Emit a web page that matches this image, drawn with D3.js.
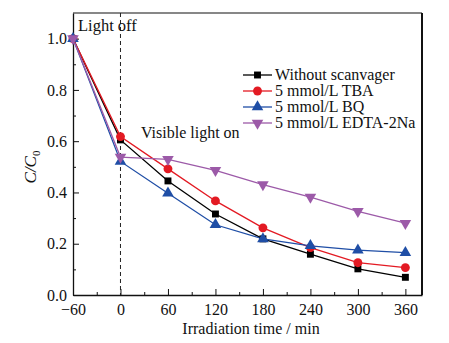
<!DOCTYPE html>
<html lang="en">
<head>
    <meta charset="UTF-8">
    <title>Scavenger experiment</title>
    <script src="https://cdn.jsdelivr.net/npm/d3@7"></script>
    <style>
        body {
            margin: 0;
            background: #fff;
        }

        svg text {
            font-family: "Liberation Serif", "DejaVu Serif", serif;
            fill: #111;
        }
    </style>
</head>
<body>
<svg id="chart" width="449" height="343"></svg>
<script>
    var times = [-60, 0, 60, 120, 180, 240, 300, 360];
    var xTicks = [-60, 0, 60, 120, 180, 240, 300, 360];
    var yTicks = [0, 0.2, 0.4, 0.6, 0.8, 1.0];

    var names = ['Without scanvager', '5 mmol/L TBA', '5 mmol/L BQ', '5 mmol/L EDTA-2Na'];
    var noScav = [1.0, 0.605, 0.445, 0.316, 0.219, 0.159, 0.102, 0.069];
    var tba = [1.0, 0.618, 0.492, 0.367, 0.262, 0.185, 0.126, 0.107];
    var bq = [1.0, 0.521, 0.397, 0.274, 0.219, 0.192, 0.175, 0.165];
    var edta = [1.0, 0.538, 0.529, 0.486, 0.431, 0.382, 0.326, 0.280];

    var colors = ['#000000', '#e31a23', '#1f4ea6', '#9c5aa8'];
    var shapes = [d3.symbolSquare, d3.symbolCircle, d3.symbolTriangle, d3.symbolTriangle];
    var series = [noScav, tba, bq, edta];

    var svg = d3.select('#chart');
    var m = {left: 73, right: 422, top: 13, bottom: 295};

    var x = d3.scaleLinear().domain([-60, 381]).range([m.left, m.right]);
    var y = d3.scaleLinear().domain([0, 1.1]).range([m.bottom, m.top]);

    // frame
    svg.append('line').attr('x1', m.left).attr('x2', m.right).attr('y1', m.top).attr('y2', m.top)
        .attr('stroke', '#111').attr('stroke-width', 1.2);
    svg.append('line').attr('x1', m.right).attr('x2', m.right).attr('y1', m.top).attr('y2', m.bottom)
        .attr('stroke', '#111').attr('stroke-width', 2);

    // axes with ticks pointing in, minor ticks halfway
    var xAxis = svg.append('g').attr('transform', 'translate(0,' + m.bottom + ')')
        .call(d3.axisBottom(x).tickValues(xTicks).tickSizeInner(-6).tickSizeOuter(0).tickPadding(9));
    var yAxis = svg.append('g').attr('transform', 'translate(' + m.left + ',0)')
        .call(d3.axisLeft(y).tickValues(yTicks).tickFormat(d3.format('.1f')).tickSizeInner(-6).tickSizeOuter(0).tickPadding(6));
    svg.append('g').attr('transform', 'translate(0,' + m.bottom + ')')
        .call(d3.axisBottom(x).tickValues(d3.range(-30, 381, 60)).tickSize(-3).tickFormat('').tickSizeOuter(0))
        .select('.domain').remove();
    svg.append('g').attr('transform', 'translate(' + m.left + ',0)')
        .call(d3.axisLeft(y).tickValues([0.1, 0.3, 0.5, 0.7, 0.9]).tickSize(-3).tickFormat('').tickSizeOuter(0))
        .select('.domain').remove();

    svg.selectAll('.domain').attr('stroke', '#111').attr('stroke-width', 1.3);
    svg.selectAll('.tick line').attr('stroke', '#111');
    xAxis.selectAll('text').style('font-size', '16px').attr('fill', '#111');
    yAxis.selectAll('text').style('font-size', '16px').attr('fill', '#111');

    // light switched on at t = 0
    svg.append('line')
        .attr('x1', x(0)).attr('x2', x(0)).attr('y1', m.top).attr('y2', m.bottom)
        .attr('stroke', '#222').attr('stroke-width', 1).attr('stroke-dasharray', '4,3');

    var line = d3.line().x(function (d, i) { return x(times[i]); }).y(function (d) { return y(d); });

    series.forEach(function (s, k) {
        svg.append('path').datum(s).attr('d', line)
            .attr('fill', 'none').attr('stroke', colors[k]).attr('stroke-width', 1.3);
    });

    function marker(g, k, cx, cy) {
        var size = [48, 62, 58, 58][k];
        var rot = k === 3 ? 180 : 0;
        g.append('path')
            .attr('d', d3.symbol().type(shapes[k]).size(size)())
            .attr('transform', 'translate(' + cx + ',' + cy + ') rotate(' + rot + ')')
            .attr('fill', colors[k]);
    }

    series.forEach(function (s, k) {
        var g = svg.append('g');
        s.forEach(function (v, i) {
            marker(g, k, x(times[i]), y(v));
        });
    });

    // legend
    var legend = svg.append('g');
    names.forEach(function (n, k) {
        var ly = 75 + k * 16;
        legend.append('line').attr('x1', 243).attr('x2', 272).attr('y1', ly).attr('y2', ly)
            .attr('stroke', colors[k]).attr('stroke-width', 1.3);
        marker(legend, k, 257.5, ly);
        legend.append('text').attr('x', 275).attr('y', ly + 5).style('font-size', '16px').text(n);
    });

    svg.append('text').attr('x', 78).attr('y', 31).style('font-size', '16.5px').text('Light off');
    svg.append('text').attr('x', 141).attr('y', 138).style('font-size', '16px').text('Visible light on');

    svg.append('text').attr('x', 251).attr('y', 334)
        .attr('text-anchor', 'middle').style('font-size', '16px').text('Irradiation time / min');

    var yl = svg.append('text').attr('transform', 'translate(36,167) rotate(-90)')
        .attr('text-anchor', 'middle').style('font-size', '17px').style('font-style', 'italic');
    yl.append('tspan').text('C/C');
    yl.append('tspan').attr('dy', 4).style('font-size', '11px').style('font-style', 'normal').text('0');
</script>
</body>
</html>
